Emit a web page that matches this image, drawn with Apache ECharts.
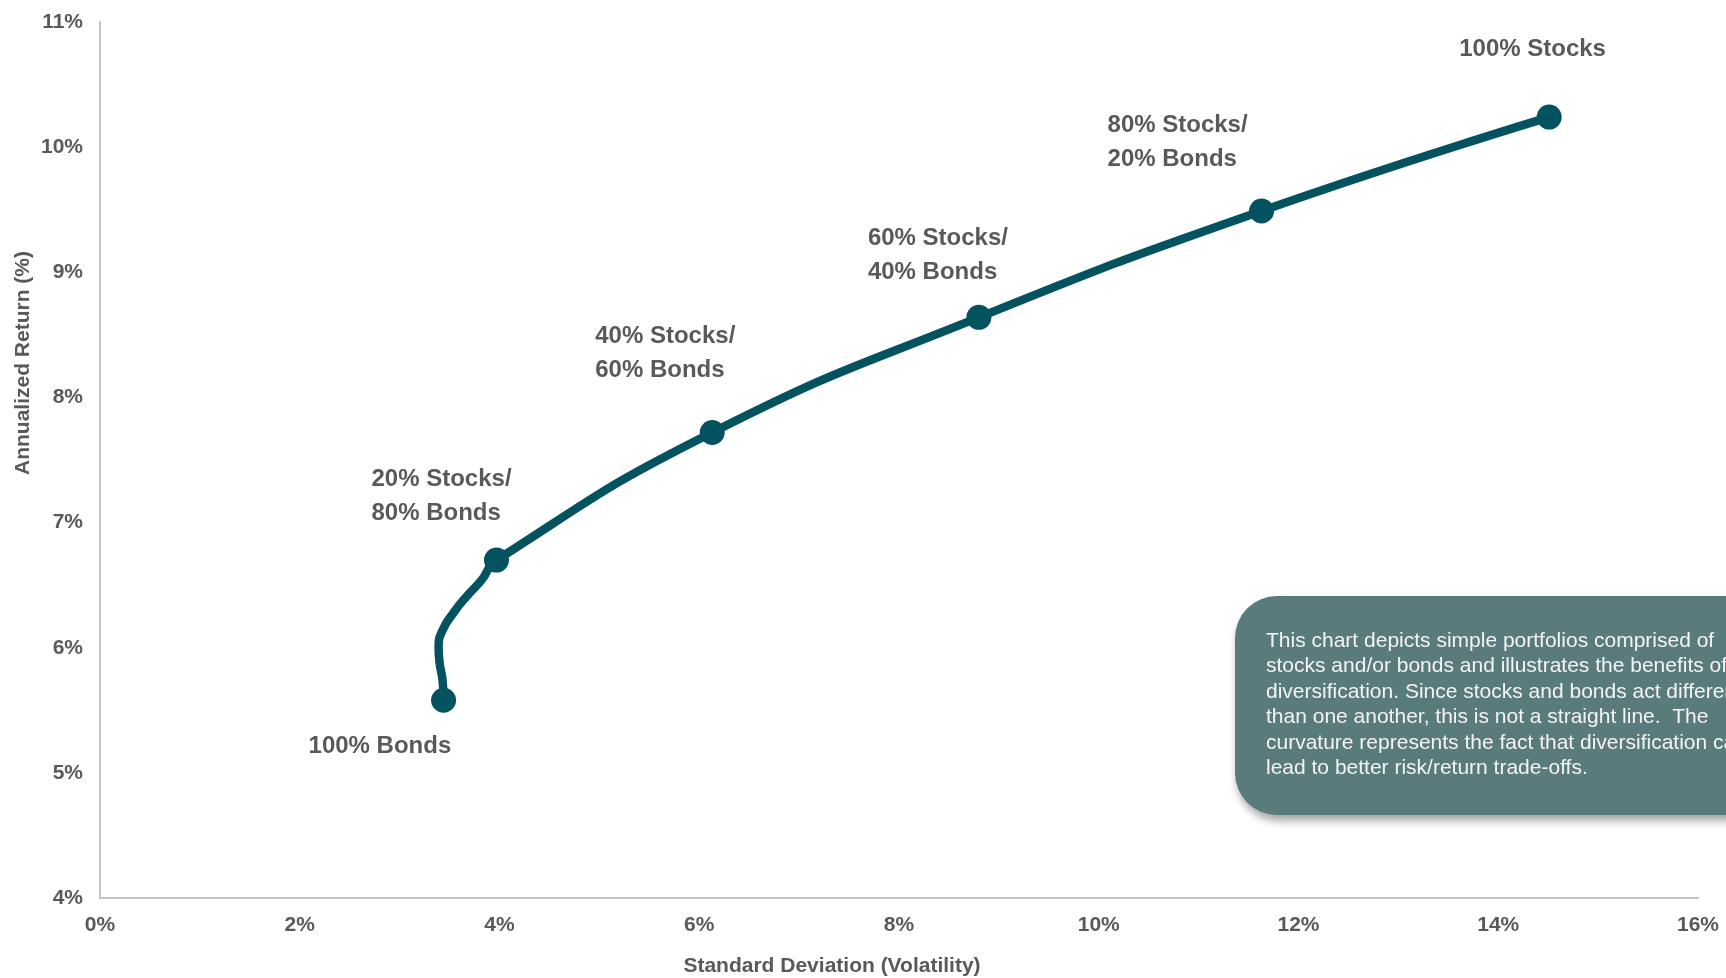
<!DOCTYPE html>
<html>
<head>
<meta charset="utf-8">
<script src="https://cdn.jsdelivr.net/npm/echarts@6/dist/echarts.min.js"></script>
<style>
html,body{margin:0;padding:0;background:#fff;}
#chart{width:1726px;height:978px;}
</style>
</head>
<body>
<div id="chart"></div>
<script>
// ---- data ----
const portfolioNames = ['100% Bonds', '20% Stocks/\n80% Bonds', '40% Stocks/\n60% Bonds', '60% Stocks/\n40% Bonds', '80% Stocks/\n20% Bonds', '100% Stocks'];
const portfolioVol = [3.44, 3.97, 6.13, 8.80, 11.63, 14.51];
const portfolioRet = [5.58, 6.70, 7.72, 8.64, 9.49, 10.24];
// frontier curve (includes unmarked points)
const curveVol = [3.44, 3.43, 3.40, 3.39, 3.43, 3.54, 3.67, 3.82, 3.97, 6.13, 8.80, 11.63, 14.51];
const curveRet = [5.58, 5.74, 5.88, 6.01, 6.14, 6.28, 6.41, 6.54, 6.70, 7.72, 8.64, 9.49, 10.24];
const xTicks = [0, 16, 2];
const yTicks = [4, 11, 1];
const noteLines = [
  'This chart depicts simple portfolios comprised of',
  'stocks and/or bonds and illustrates the benefits of',
  'diversification. Since stocks and bonds act differently',
  'than one another, this is not a straight line.  The',
  'curvature represents the fact that diversification can',
  'lead to better risk/return trade-offs.'
];
const xTitle = 'Standard Deviation (Volatility)';
const yTitle = 'Annualized Return (%)';

// ---- styles ----
const labelOffsets = [[-135, 46], [-125, -64], [-117, -79], [-111, -62], [-154, -69], [-90, -68]];
const FONT = '"Liberation Sans", Arial, sans-serif';
const TEAL = '#03525f';
const GREY = '#595959';

const chart = echarts.init(document.getElementById('chart'));
const curveData = curveVol.map((v, i) => [v, curveRet[i]]);
const pointData = portfolioVol.map((v, i) => ({
  value: [v, portfolioRet[i]],
  name: portfolioNames[i],
  label: { offset: labelOffsets[i] }
}));

chart.setOption({
  animation: false,
  backgroundColor: '#ffffff',
  grid: { left: 100, right: 28, top: 22, bottom: 80, containLabel: false },
  xAxis: {
    type: 'value', min: xTicks[0], max: xTicks[1], interval: xTicks[2],
    axisLine: { show: true, lineStyle: { color: '#c4c4c4', width: 2 } },
    axisTick: { show: false }, splitLine: { show: false },
    axisLabel: { formatter: '{value}%', color: GREY, fontFamily: FONT, fontWeight: 'bold', fontSize: 21, margin: 17 }
  },
  yAxis: {
    type: 'value', min: yTicks[0], max: yTicks[1], interval: yTicks[2],
    axisLine: { show: true, lineStyle: { color: '#c4c4c4', width: 2 } },
    axisTick: { show: false }, splitLine: { show: false },
    axisLabel: { formatter: '{value}%', color: GREY, fontFamily: FONT, fontWeight: 'bold', fontSize: 21, margin: 17 }
  },
  series: [
    {
      type: 'line', data: curveData, smooth: 0.5, showSymbol: false, symbol: 'none',
      lineStyle: { color: TEAL, width: 8.5, cap: 'round', join: 'round' },
      z: 2
    },
    {
      type: 'scatter', data: pointData, symbol: 'circle', symbolSize: 25,
      itemStyle: { color: TEAL, opacity: 1 },
      label: {
        show: true, position: 'inside', align: 'left', verticalAlign: 'middle',
        formatter: p => p.name,
        color: GREY, fontFamily: FONT, fontWeight: 'bold', fontSize: 24, lineHeight: 34
      },
      z: 3
    }
  ],
  graphic: [
    {
      type: 'text', x: 832, y: 966,
      style: { text: xTitle, fill: GREY, font: 'bold 21px ' + FONT, textAlign: 'center', textVerticalAlign: 'middle' }
    },
    {
      type: 'text', x: 23, y: 363, rotation: Math.PI / 2,
      style: { text: yTitle, fill: GREY, font: 'bold 21px ' + FONT, textAlign: 'center', textVerticalAlign: 'middle' }
    },
    {
      type: 'rect', shape: { x: 1235, y: 596, width: 600, height: 219, r: 42 },
      style: { fill: '#5a7b7b', shadowBlur: 8, shadowOffsetY: 6, shadowOffsetX: 2, shadowColor: 'rgba(0,0,0,0.35)' },
      z: 10
    },
    {
      type: 'text', x: 1266, y: 628,
      style: { text: noteLines.join('\n'), fill: '#f4f4f4', font: '21px ' + FONT, lineHeight: 25.5 },
      z: 11
    }
  ]
});
</script>
</body>
</html>
